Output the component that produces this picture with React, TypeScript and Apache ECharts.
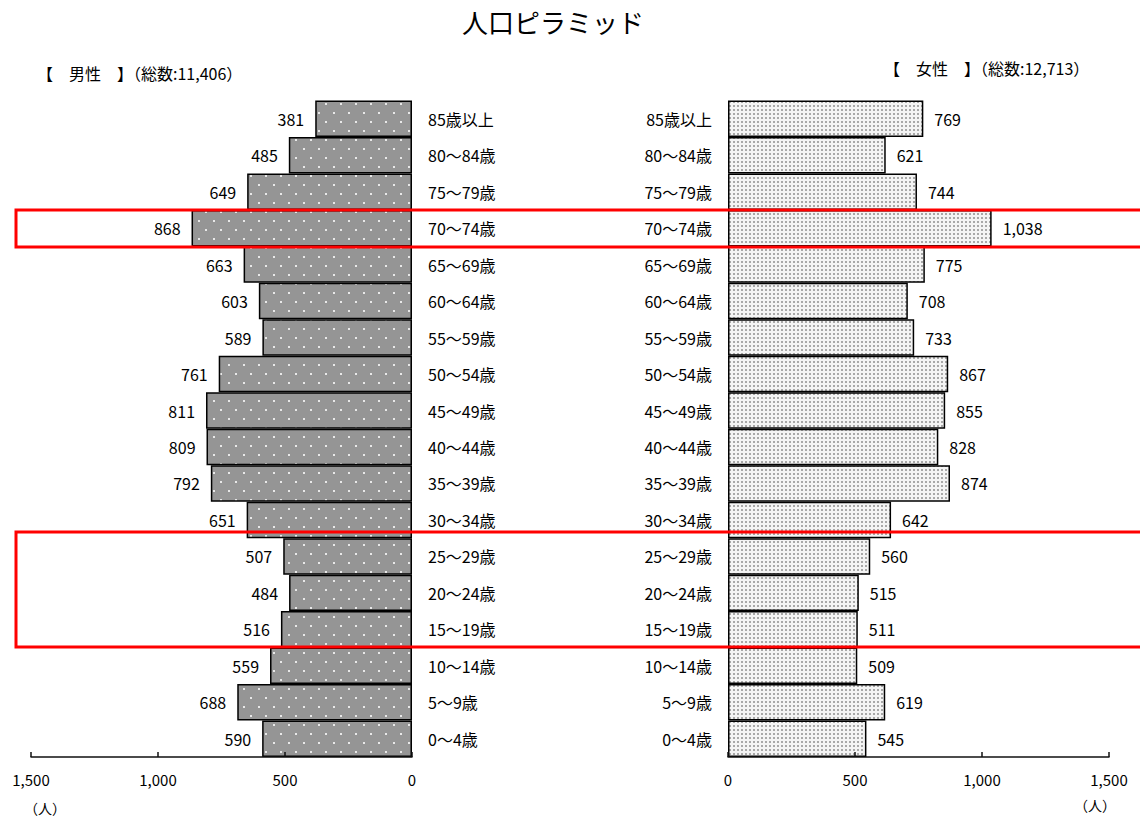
import React, { useEffect, useRef } from "react";
import * as echarts from "echarts";

// Age bands, top to bottom
const ageGroups = [
  "85歳以上", "80～84歳", "75～79歳", "70～74歳", "65～69歳", "60～64歳",
  "55～59歳", "50～54歳", "45～49歳", "40～44歳", "35～39歳", "30～34歳",
  "25～29歳", "20～24歳", "15～19歳", "10～14歳", "5～9歳", "0～4歳",
];
const male = [381, 485, 649, 868, 663, 603, 589, 761, 811, 809, 792, 651, 507, 484, 516, 559, 688, 590];
const female = [769, 621, 744, 1038, 775, 708, 733, 867, 855, 828, 874, 642, 560, 515, 511, 509, 619, 545];
const axisTicks = [0, 500, 1000, 1500];

const FONT = "'Noto Sans CJK JP', 'Noto Sans', sans-serif";
const fmt = (v: number) => v.toLocaleString("en-US");

function dotTile(w: number, h: number, bg: string, dot: string, pts: number[][], size: number) {
  const c = document.createElement("canvas");
  c.width = w;
  c.height = h;
  const ctx = c.getContext("2d")!;
  ctx.fillStyle = bg;
  ctx.fillRect(0, 0, w, h);
  ctx.fillStyle = dot;
  pts.forEach(([x, y]) => ctx.fillRect(x, y, size, size));
  return c;
}

export default function App() {
  const ref = useRef<HTMLDivElement>(null);

  useEffect(() => {
    if (!ref.current) return;
    const chart = echarts.init(ref.current, undefined, { renderer: "svg" });

    const maleTile = dotTile(15, 18, "#959595", "#e8e8e8", [[3, 4], [10, 13]], 2);
    const femaleTile = dotTile(4, 4, "#f4f4f4", "#a8a8a8", [[1, 1]], 2);
    const maleTotal = male.reduce((a, b) => a + b, 0);
    const femaleTotal = female.reduce((a, b) => a + b, 0);

    const gridTop = 100.5;
    const gridHeight = 656.5;

    const xAxisBase = (gridIndex: number, inverse: boolean) => ({
      type: "value",
      gridIndex,
      inverse,
      min: axisTicks[0],
      max: axisTicks[axisTicks.length - 1],
      interval: 500,
      z: 5,
      axisLine: { show: true, lineStyle: { color: "#111", width: 1.5 } },
      axisTick: { show: true, inside: true, length: 5, lineStyle: { color: "#111", width: 1.5 } },
      splitLine: { show: false },
      axisLabel: { margin: 15, fontSize: 15, color: "#000", fontFamily: FONT, formatter: (v: number) => fmt(v) },
    });

    const labelStyle = { fontSize: 16, color: "#000", fontFamily: FONT };

    chart.setOption({
      animation: false,
      backgroundColor: "#fff",
      textStyle: { fontFamily: FONT },
      grid: [
        { left: 31, width: 381, top: gridTop, height: gridHeight },
        { left: 728, width: 381, top: gridTop, height: gridHeight },
      ],
      xAxis: [xAxisBase(0, true), xAxisBase(1, false)],
      yAxis: [
        {
          type: "category",
          gridIndex: 0,
          data: ageGroups,
          inverse: true,
          position: "right",
          axisLine: { show: false },
          axisTick: { show: false },
          axisLabel: { ...labelStyle, margin: 16, align: "left" },
        },
        {
          type: "category",
          gridIndex: 1,
          data: ageGroups,
          inverse: true,
          position: "left",
          axisLine: { show: false },
          axisTick: { show: false },
          axisLabel: { ...labelStyle, margin: 16, align: "right" },
        },
      ],
      series: [
        {
          name: "男性",
          type: "bar",
          xAxisIndex: 0,
          yAxisIndex: 0,
          data: male,
          barCategoryGap: "0%",
          itemStyle: {
            color: { image: maleTile, repeat: "repeat", imageWidth: 15, imageHeight: 18 } as any,
            borderColor: "#000",
            borderWidth: 1.5,
          },
          label: { show: true, position: "left", distance: 11, ...labelStyle, formatter: (p: any) => fmt(p.value) },
        },
        {
          name: "女性",
          type: "bar",
          xAxisIndex: 1,
          yAxisIndex: 1,
          data: female,
          barCategoryGap: "0%",
          itemStyle: {
            color: { image: femaleTile, repeat: "repeat", imageWidth: 4, imageHeight: 4 } as any,
            borderColor: "#000",
            borderWidth: 1.5,
          },
          label: { show: true, position: "right", distance: 11, ...labelStyle, formatter: (p: any) => fmt(p.value) },
        },
      ],
      graphic: [
        {
          type: "text",
          x: 553,
          y: 21,
          style: { text: "人口ピラミッド", font: `400 26px ${FONT}`, fill: "#000", align: "center", verticalAlign: "middle" },
        },
        {
          type: "text",
          x: 37,
          y: 73,
          style: { text: `【　男性　】（総数:${fmt(maleTotal)}）`, font: `16px ${FONT}`, fill: "#000", verticalAlign: "middle" },
        },
        {
          type: "text",
          x: 884,
          y: 68,
          style: { text: `【　女性　】（総数:${fmt(femaleTotal)}）`, font: `16px ${FONT}`, fill: "#000", verticalAlign: "middle" },
        },
        {
          type: "text",
          x: 45,
          y: 808,
          style: { text: "（人）", font: `14px ${FONT}`, fill: "#000", align: "center", verticalAlign: "middle" },
        },
        {
          type: "text",
          x: 1095,
          y: 805,
          style: { text: "（人）", font: `14px ${FONT}`, fill: "#000", align: "center", verticalAlign: "middle" },
        },
        // highlight frames around selected age bands
        {
          type: "rect",
          z: 20,
          shape: { x: 16, y: 210, width: 1140, height: 37 },
          style: { fill: "none", stroke: "#ff0000", lineWidth: 3 },
        },
        {
          type: "rect",
          z: 20,
          shape: { x: 16, y: 532, width: 1140, height: 115 },
          style: { fill: "none", stroke: "#ff0000", lineWidth: 3 },
        },
      ],
    });

    return () => chart.dispose();
  }, []);

  return (
    <div
      ref={ref}
      style={{ position: "fixed", left: 0, top: 0, width: 1140, height: 821, background: "#fff" }}
    />
  );
}
